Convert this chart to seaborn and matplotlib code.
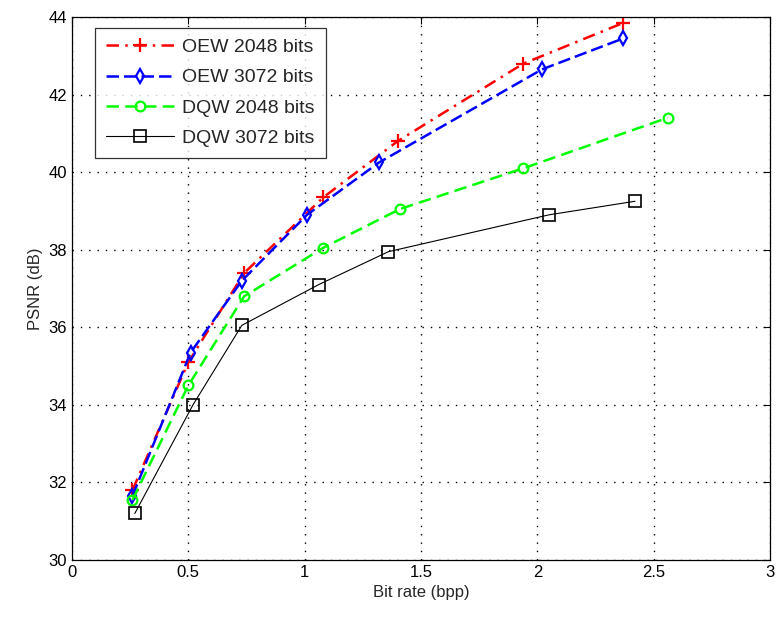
import matplotlib
matplotlib.use("Agg")
import matplotlib.pyplot as plt
import seaborn as sns
import pandas as pd

# data
oew2048_x = [0.26, 0.50, 0.74, 1.08, 1.40, 1.94, 2.37]
oew2048_y = [31.8, 35.1, 37.4, 39.35, 40.8, 42.8, 43.85]
oew3072_x = [0.26, 0.51, 0.73, 1.01, 1.32, 2.02, 2.37]
oew3072_y = [31.65, 35.35, 37.2, 38.9, 40.25, 42.65, 43.45]
dqw2048_x = [0.26, 0.50, 0.74, 1.08, 1.41, 1.94, 2.56]
dqw2048_y = [31.55, 34.5, 36.8, 38.05, 39.05, 40.1, 41.4]
dqw3072_x = [0.27, 0.52, 0.73, 1.06, 1.36, 2.05, 2.42]
dqw3072_y = [31.2, 34.0, 36.05, 37.1, 37.95, 38.9, 39.25]

x_ticks = [0, 0.5, 1, 1.5, 2, 2.5, 3]
x_labels = ["0", "0.5", "1", "1.5", "2", "2.5", "3"]
y_ticks = [30, 32, 34, 36, 38, 40, 42, 44]

series = [
    ("OEW 2048 bits", oew2048_x, oew2048_y, "red", (0, (5, 2.5, 1, 2.5)), "+", 1.8, 10),
    ("OEW 3072 bits", oew3072_x, oew3072_y, "blue", (0, (5, 2)), "d", 1.8, 7),
    ("DQW 2048 bits", dqw2048_x, dqw2048_y, "#00ff00", (0, (5, 2.5)), "o", 1.8, 7),
    ("DQW 3072 bits", dqw3072_x, dqw3072_y, "black", "-", "s", 0.8, 8),
]

sns.set_style("white")
plt.rcParams["font.family"] = ["Liberation Sans", "DejaVu Sans"]

fig = plt.figure(figsize=(7.78, 6.26), dpi=100)
ax = fig.add_axes([0.0925, 0.1054, 0.8972, 0.8674])

for name, xs, ys, col, ls, mk, lw, ms in series:
    df = pd.DataFrame({"x": xs, "y": ys})
    sns.lineplot(data=df, x="x", y="y", ax=ax, sort=False, color=col,
                 linestyle=ls, linewidth=lw, marker=mk, markersize=ms,
                 markerfacecolor="none", markeredgecolor=col,
                 markeredgewidth=1.6 if mk != "s" else 1.2, label=name)

ax.set_xlim(0, 3)
ax.set_ylim(30, 44)
ax.set_xticks(x_ticks)
ax.set_xticklabels(x_labels)
ax.set_yticks(y_ticks)
ax.grid(True, linestyle=(0, (1, 5)), color="black", linewidth=1.0)
ax.tick_params(direction="in", length=5, labelsize=12, colors="black",
               top=True, right=True)
for s in ax.spines.values():
    s.set_color("black")
    s.set_linewidth(0.9)
ax.set_xlabel("Bit rate (bpp)", fontsize=12)
ax.set_ylabel("PSNR (dB)", fontsize=12)

leg = ax.legend(loc="upper left", bbox_to_anchor=(0.033, 0.98),
                borderaxespad=0, fontsize=14, frameon=True, fancybox=False,
                edgecolor="black", handlelength=3.5, labelspacing=0.65,
                borderpad=0.55, handletextpad=0.45)
leg.get_frame().set_linewidth(0.9)

fig.savefig("out.png", dpi=100)
